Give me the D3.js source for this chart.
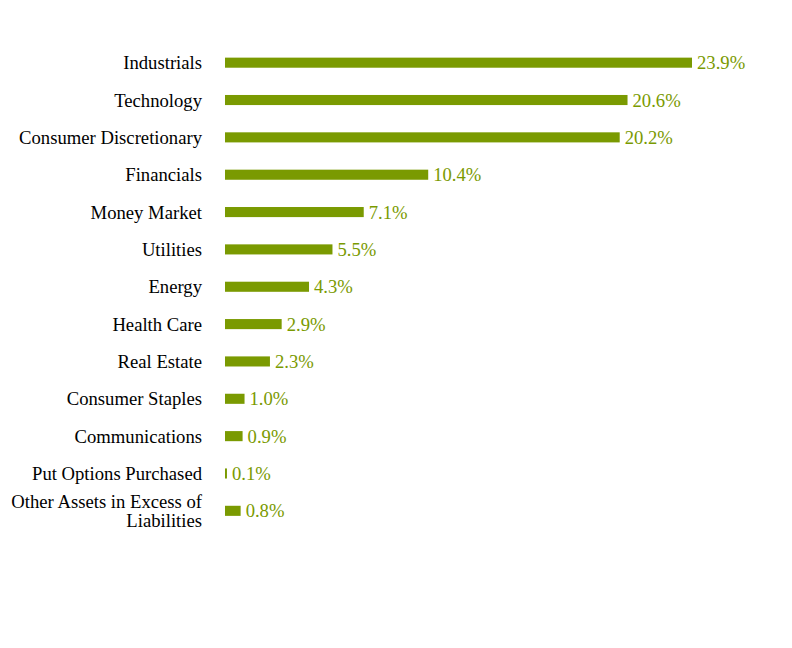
<!DOCTYPE html>
<html><head><meta charset="utf-8">
<script src="https://cdn.jsdelivr.net/npm/d3@7"></script>
<style>body{margin:0;background:#fff}svg{display:block}</style>
</head><body>
<script>
const categories = ["Industrials","Technology","Consumer Discretionary","Financials","Money Market","Utilities","Energy","Health Care","Real Estate","Consumer Staples","Communications","Put Options Purchased","Other Assets in Excess of\nLiabilities"];
const values = [23.9,20.6,20.2,10.4,7.1,5.5,4.3,2.9,2.3,1.0,0.9,0.1,0.8];
const valueLabels = ["23.9%","20.6%","20.2%","10.4%","7.1%","5.5%","4.3%","2.9%","2.3%","1.0%","0.9%","0.1%","0.8%"];

const W = 792, H = 648;
const color = "#7a9a01";
const svg = d3.select("body").append("svg").attr("width", W).attr("height", H);
const x = d3.scaleLinear().domain([0, 23.9]).range([225, 692]);
const y = d3.scaleBand().domain(d3.range(categories.length)).range([44, 529.5]).paddingInner(0.73).paddingOuter(0.365);
const font = "'Liberation Serif', 'Times New Roman', serif";
const fs = 18.67;

svg.selectAll("rect.bar").data(values).join("rect")
  .attr("class","bar")
  .attr("x", x(0))
  .attr("y", (d,i) => y(i))
  .attr("width", d => x(d) - x(0))
  .attr("height", y.bandwidth())
  .attr("fill", color);

svg.selectAll("text.val").data(values).join("text")
  .attr("class","val")
  .attr("x", d => x(d) + 5)
  .attr("y", (d,i) => y(i) + y.bandwidth()/2)
  .attr("dy", "0.35em")
  .attr("font-family", font).attr("font-size", fs)
  .attr("fill", color)
  .text((d,i) => valueLabels[i]);

const lab = svg.selectAll("text.cat").data(categories).join("text")
  .attr("class","cat")
  .attr("text-anchor","end")
  .attr("font-family", font).attr("font-size", fs)
  .attr("fill", "#000");
lab.each(function(d,i){
  const lines = d.split("\n");
  const cy = y(i) + y.bandwidth()/2;
  const lh = 18.5;
  const t = d3.select(this);
  lines.forEach((ln,j) => {
    t.append("tspan").attr("x", 202)
     .attr("y", cy + (j - (lines.length-1)/2) * lh)
     .attr("dy","0.35em").text(ln);
  });
});
</script>
</body></html>
